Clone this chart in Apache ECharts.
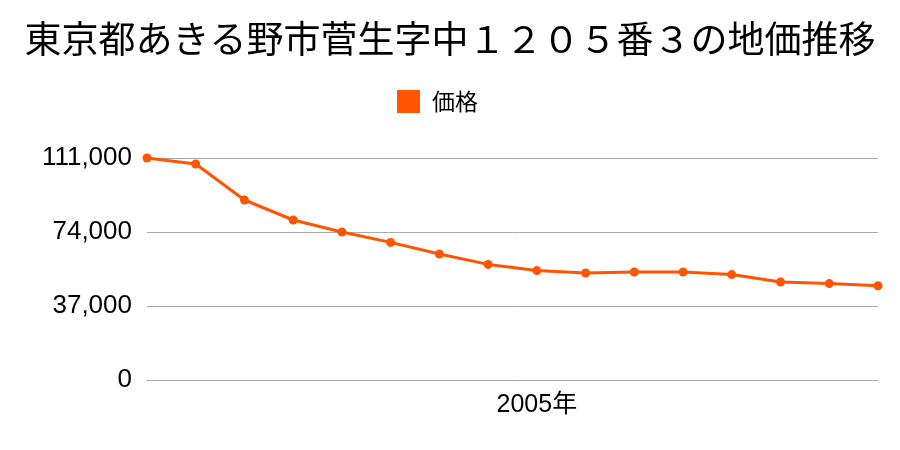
<!DOCTYPE html>
<html>
<head>
<meta charset="utf-8">
<script src="https://cdn.jsdelivr.net/npm/echarts@6/dist/echarts.min.js"></script>
<style>html,body{margin:0;padding:0;background:#fff}#c{width:900px;height:450px}</style>
</head>
<body>
<div id="c"></div>
<script>
const titleText = '東京都あきる野市菅生字中１２０５番３の地価推移';
const seriesName = '価格';
const years = ['1997年','1998年','1999年','2000年','2001年','2002年','2003年','2004年','2005年','2006年','2007年','2008年','2009年','2010年','2011年','2012年'];
const prices = [111000,108000,90000,80000,74000,68800,63000,57800,54700,53500,54000,54000,52700,49000,48200,47100];
const shownLabels = ['2005年'];
const yTicks = [0,37000,74000,111000];

const font = '"Noto Sans CJK JP", "Noto Sans", sans-serif';
const numFont = '"Liberation Sans", "Noto Sans CJK JP", sans-serif';
const chart = echarts.init(document.getElementById('c'));
chart.setOption({
  animation: false,
  title: {text: titleText, left: 'center', top: 15, textStyle: {fontFamily: font, fontSize: 37, fontWeight: 'normal', color: '#000'}},
  legend: {data: [seriesName], top: 90, left: 397, padding: 0, itemWidth: 23, itemHeight: 23, icon: 'rect', itemGap: 13,
    textStyle: {fontFamily: font, fontSize: 23, color: '#000', padding: [0, 0, 0, 7]}},
  grid: {left: 147, right: 22, top: 158, bottom: 70},
  xAxis: {type: 'category', data: years, boundaryGap: false,
    axisLine: {lineStyle: {color: '#aaa'}}, axisTick: {show: false},
    axisLabel: {interval: 0, formatter: v => shownLabels.includes(v) ? v : '', fontFamily: numFont, fontSize: 25, color: '#000', margin: 13}},
  yAxis: {type: 'value', min: yTicks[0], max: yTicks[3], interval: yTicks[1]-yTicks[0],
    axisLine: {show: false}, axisTick: {show: false},
    splitLine: {lineStyle: {color: '#aaa'}},
    axisLabel: {fontFamily: numFont, fontSize: 26, color: '#000', margin: 15, formatter: v => v.toLocaleString('en-US')}},
  series: [{name: seriesName, type: 'line', data: prices, color: '#ff5500',
    lineStyle: {width: 3}, symbol: 'circle', symbolSize: 9, itemStyle: {color: '#ff5500'}}]
});
</script>
</body>
</html>
